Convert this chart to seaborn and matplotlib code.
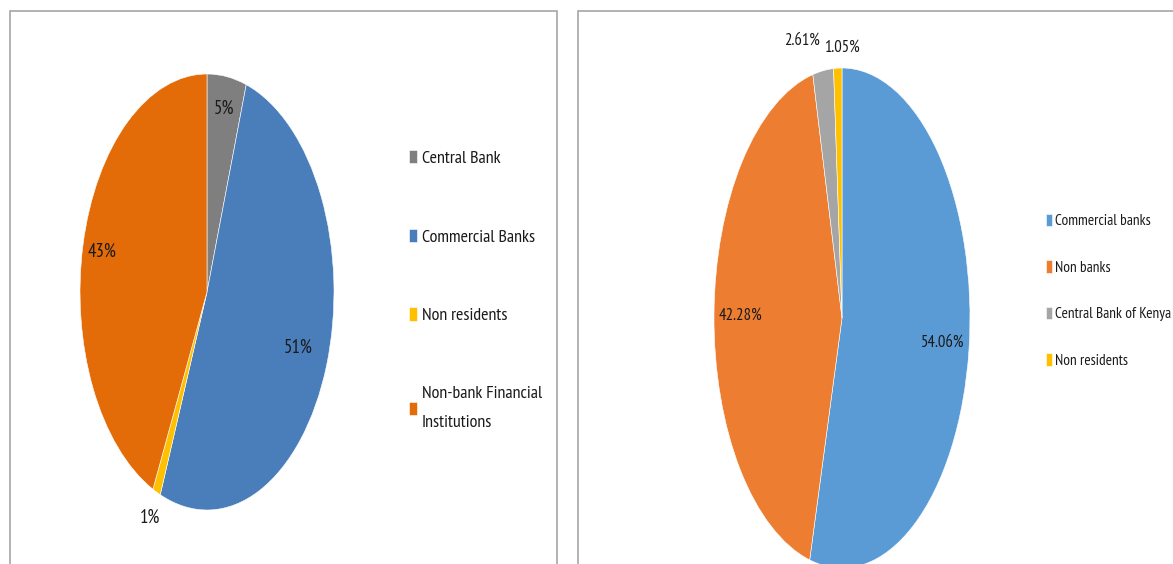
import matplotlib
matplotlib.use("Agg")
import matplotlib.pyplot as plt
import seaborn as sns
import numpy as np
from matplotlib.patches import Rectangle
from matplotlib import font_manager

sns.set_theme(style="white")
avail = {f.name for f in font_manager.fontManager.ttflist}
fam = next(f for f in ['PT Sans Narrow', 'Roboto Condensed', 'Carlito', 'DejaVu Sans']
           if f in avail or f == 'DejaVu Sans')
plt.rcParams['font.family'] = [fam, 'DejaVu Sans']

# ---- data ----
left_labels = ["Central Bank", "Commercial Banks", "Non residents", "Non-bank Financial\nInstitutions"]
left_values = [5, 51, 1, 43]
left_pct_text = ["5%", "51%", "1%", "43%"]
left_colors = ["#7F7F7F", "#4A7EBB", "#FFC000", "#E36C09"]

right_labels = ["Commercial banks", "Non banks", "Central Bank of Kenya", "Non residents"]
right_values = [54.06, 42.28, 2.61, 1.05]
right_pct_text = ["54.06%", "42.28%", "2.61%", "1.05%"]
right_colors = ["#5B9BD5", "#ED7D31", "#A5A5A5", "#FFC000"]

W, H = 1173, 564
fig = plt.figure(figsize=(W / 100, H / 100), dpi=100)
fig.patch.set_facecolor('white')

# panel borders
for x0, x1 in [(10, 557), (578, 1190)]:
    fig.add_artist(Rectangle((x0 / W, -0.05), (x1 - x0) / W, (H - 11) / H + 0.05,
                             transform=fig.transFigure, fill=False,
                             edgecolor='#A6A6A6', linewidth=1.2))


def px_axes(cx, cy, rx, ry):
    return fig.add_axes([(cx - rx) / W, (H - cy - ry) / H, 2 * rx / W, 2 * ry / H])


def draw_pie(ax, values, colors, texts, dists, aligns, offsets, fs):
    wedges, _ = ax.pie(values, colors=colors, startangle=90, counterclock=False,
                       wedgeprops=dict(edgecolor='white', linewidth=0.4))
    ax.set_aspect('auto')
    ax.set_xlim(-1, 1)
    ax.set_ylim(-1, 1)
    ax.axis('off')
    for w, t, d, ha, off in zip(wedges, texts, dists, aligns, offsets):
        ang = np.deg2rad((w.theta1 + w.theta2) / 2)
        ax.annotate(t, xy=(d * np.cos(ang), d * np.sin(ang)), xytext=off,
                    textcoords='offset pixels', ha=ha, va='center',
                    fontsize=fs, color='#1A1A1A', annotation_clip=False)
    return wedges


axL = px_axes(207, 292, 127, 218)
wL = draw_pie(axL, left_values, left_colors, left_pct_text,
              [0.85, 0.76, 1.13, 0.85], ['center'] * 4, [(0, 0)] * 4, 13.5)

axR = px_axes(842, 318, 128, 250)
wR = draw_pie(axR, right_values, right_colors, right_pct_text,
              [0.79, 0.79, 1.12, 1.08], ['center', 'center', 'right', 'center'],
              [(0, 0), (0, 0), (-1, 0), (4, 0)], 12)

legL = fig.legend(handles=wL, labels=left_labels, loc='upper left',
                  bbox_to_anchor=(409 / W, 1 - 150 / H), frameon=False,
                  fontsize=13, handlelength=0.42, handleheight=0.75,
                  handletextpad=0.3, labelspacing=3.42, borderpad=0, borderaxespad=0)
for t in legL.get_texts():
    t.set_color('#1A1A1A')
    t.set_linespacing(2.1)

legR = fig.legend(handles=wR, labels=right_labels, loc='upper left',
                  bbox_to_anchor=(1046 / W, 1 - 214 / H), frameon=False,
                  fontsize=11, handlelength=0.4, handleheight=0.85,
                  handletextpad=0.2, labelspacing=2.1, borderpad=0, borderaxespad=0)
for t in legR.get_texts():
    t.set_color('#1A1A1A')

fig.savefig("out.png", dpi=100, facecolor='white')
